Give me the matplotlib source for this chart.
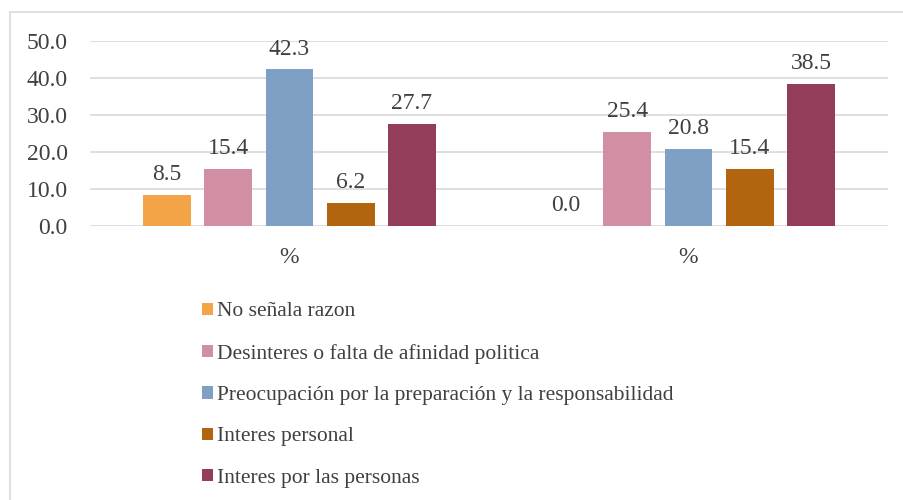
import matplotlib.pyplot as plt
from matplotlib.patches import Rectangle, Patch
import numpy as np

plt.rcParams['font.family'] = ['Liberation Serif', 'DejaVu Serif']

# Data
categories = ['%', '%']
series_names = [
    'No señala razon',
    'Desinteres o falta de afinidad politica',
    'Preocupación por la preparación y la responsabilidad',
    'Interes personal',
    'Interes por las personas',
]
no_senala = [8.5, 0.0]
desinteres = [15.4, 25.4]
preocupacion = [42.3, 20.8]
interes_personal = [6.2, 15.4]
interes_personas = [27.7, 38.5]
series_values = [no_senala, desinteres, preocupacion, interes_personal, interes_personas]
colors = ['#F2A446', '#D18FA4', '#7F9FC4', '#B2650E', '#943D5B']
y_ticks = [0, 10, 20, 30, 40, 50]

text_color = '#404040'
grid_color = '#D9D9D9'

fig = plt.figure(figsize=(9.04, 5.0), dpi=100)
ax = fig.add_axes([90 / 904, 1 - 226 / 500, 798 / 904, 185 / 500])

# outer chart border
fig.patches.append(Rectangle((10 / 904, -0.1), 1.2, 1 - 12 / 500 + 0.1,
                             transform=fig.transFigure, fill=False,
                             edgecolor=grid_color, linewidth=1.2))

x = np.arange(len(categories))
width = 0.12
pitch = 0.1535
for i, (name, vals, c) in enumerate(zip(series_names, series_values, colors)):
    pos = x + (i - 2) * pitch
    ax.bar(pos, vals, width=width, color=c, label=name, zorder=3)
    for p, v in zip(pos, vals):
        ax.annotate(f'{v:.1f}', xy=(p, v), xytext=(0, 7), textcoords='offset points',
                    ha='center', va='bottom', fontsize=17, color=text_color)

ax.set_xlim(-0.5, 1.5)
ax.set_ylim(0, 50)
ax.set_yticks(y_ticks)
ax.set_yticklabels([f'{t:.1f}' for t in y_ticks])
ax.set_xticks(x)
ax.set_xticklabels(categories)
ax.tick_params(axis='both', length=0, labelsize=17, labelcolor=text_color)
ax.tick_params(axis='y', pad=16)
ax.tick_params(axis='x', pad=15)
ax.grid(axis='y', color=grid_color, linewidth=1.2, zorder=0)
for s in ax.spines.values():
    s.set_visible(False)
ax.set_facecolor('none')

handles = [Patch(facecolor=c, edgecolor='none') for c in colors]
fig.legend(handles, series_names, loc='upper left', bbox_to_anchor=(183 / 904, 1 - 283 / 500),
           frameon=False, fontsize=15.5, handlelength=0.5, handleheight=0.5,
           handletextpad=0.2, labelspacing=1.04, labelcolor=text_color)

fig.savefig('out.png', dpi=100)
